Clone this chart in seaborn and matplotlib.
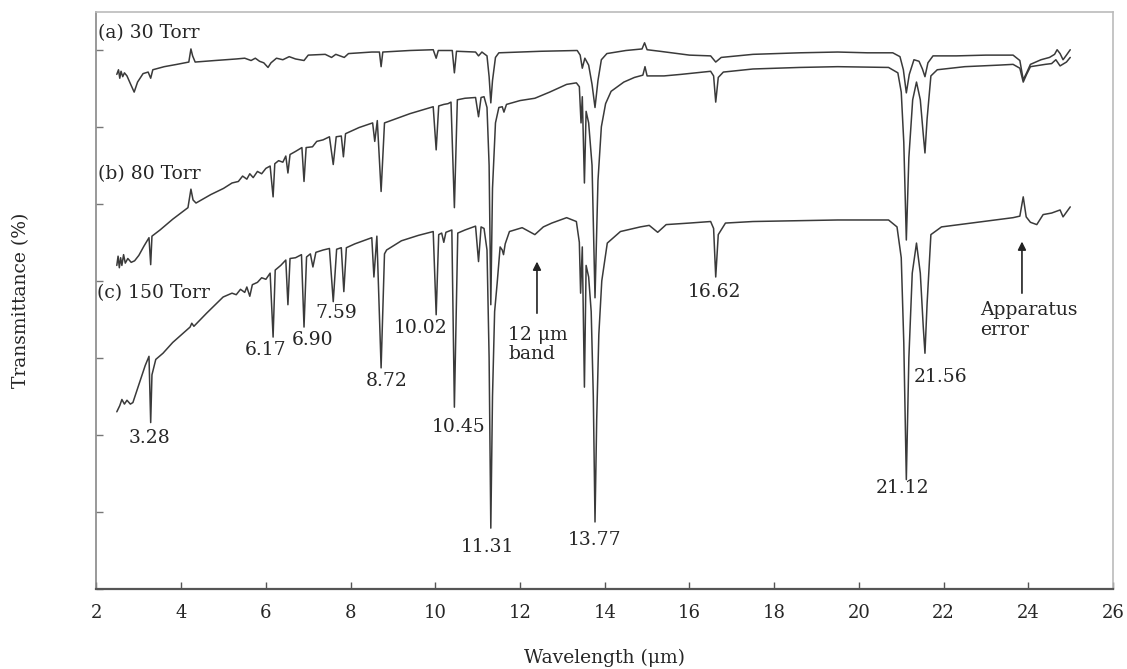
import matplotlib
matplotlib.use("Agg")
import matplotlib.pyplot as plt
import seaborn as sns
import pandas as pd

# ---------------- data ----------------
a_wl = [2.48, 2.52, 2.55, 2.58, 2.62, 2.66, 2.72, 2.80, 2.89, 2.97, 3.10, 3.22, 3.28, 3.33, 3.60, 3.90,
        4.18, 4.23, 4.27, 4.33, 4.80, 5.30, 5.50, 5.65, 5.75, 5.85, 5.95, 6.05, 6.12, 6.25, 6.40, 6.55,
        6.70, 6.90, 7.00, 7.40, 7.55, 7.65, 7.85, 7.95, 8.50, 8.68, 8.72, 8.76, 9.40, 9.95, 10.02, 10.07,
        10.40, 10.45, 10.50, 10.95, 11.02, 11.10, 11.22, 11.27, 11.31, 11.35, 11.42, 11.50, 12.00, 12.50,
        13.35, 13.42, 13.47, 13.53, 13.62, 13.70, 13.77, 13.84, 13.92, 14.05, 14.50, 14.88, 14.94, 15.00,
        15.30, 16.00, 16.50, 16.62, 16.75, 17.50, 18.60, 19.50, 20.20, 20.80, 20.97, 21.05, 21.12, 21.19,
        21.30, 21.42, 21.50, 21.56, 21.63, 21.75, 22.30, 23.00, 23.64, 23.80, 23.88, 23.96, 24.05, 24.30,
        24.50, 24.62, 24.68, 24.75, 24.82, 24.90, 24.99]
a_tr = [66.8, 67.4, 66.3, 67.2, 66.5, 67.0, 66.6, 65.6, 64.5, 65.8, 66.9, 67.1, 66.3, 67.4, 67.8, 68.1,
        68.4, 70.1, 69.2, 68.4, 68.6, 68.8, 68.9, 68.6, 68.9, 68.5, 68.3, 67.7, 68.3, 68.9, 68.7, 69.1,
        68.8, 68.6, 69.3, 69.4, 69.0, 69.4, 69.0, 69.5, 69.7, 69.7, 67.8, 69.7, 69.9, 70.0, 68.9, 69.9,
        69.9, 67.0, 69.8, 69.7, 69.2, 69.7, 69.2, 66.5, 63.1, 66.0, 69.0, 69.6, 69.7, 69.8,
        69.9, 69.3, 67.6, 68.9, 68.0, 65.5, 62.5, 66.0, 68.7, 69.5, 69.9, 70.1, 70.9, 70.0,
        69.8, 69.3, 69.2, 68.4, 69.0, 69.4, 69.6, 69.7, 69.6, 69.6, 69.1, 67.4, 64.4, 66.8,
        68.7, 68.5, 67.5, 66.5, 68.3, 69.2, 69.2, 69.3, 69.3, 68.6, 66.1, 67.0, 68.1, 68.7,
        69.0, 69.4, 70.0, 69.5, 68.7, 69.3, 70.0]

b_wl = [2.48, 2.51, 2.54, 2.57, 2.60, 2.64, 2.68, 2.74, 2.82, 2.90, 3.00, 3.12, 3.24, 3.28, 3.31, 3.50,
        3.80, 4.16, 4.23, 4.28, 4.35, 4.70, 5.00, 5.20, 5.35, 5.45, 5.55, 5.62, 5.70, 5.80, 5.90, 6.00,
        6.10, 6.17, 6.21, 6.30, 6.40, 6.47, 6.52, 6.57, 6.70, 6.85, 6.90, 6.95, 7.10, 7.20, 7.35, 7.50,
        7.59, 7.66, 7.78, 7.83, 7.88, 8.20, 8.52, 8.57, 8.63, 8.72, 8.80, 8.90, 9.40, 9.95, 10.02, 10.08,
        10.20, 10.30, 10.37, 10.45, 10.52, 10.70, 10.95, 11.02, 11.08, 11.15, 11.22, 11.27, 11.31, 11.35,
        11.42, 11.50, 11.58, 11.62, 11.68, 12.00, 12.35, 12.70, 13.10, 13.33, 13.40, 13.44, 13.47, 13.52,
        13.56, 13.62, 13.70, 13.77, 13.84, 13.92, 14.02, 14.15, 14.45, 14.70, 14.90, 14.95, 15.00, 15.40,
        15.80, 16.50, 16.57, 16.62, 16.68, 16.80, 17.50, 18.60, 19.50, 20.70, 20.92, 21.00, 21.06, 21.12,
        21.18, 21.27, 21.36, 21.45, 21.52, 21.56, 21.61, 21.70, 21.85, 22.50, 23.30, 23.64, 23.80, 23.88,
        23.96, 24.05, 24.40, 24.55, 24.65, 24.75, 24.90, 24.99]
b_tr = [42.0, 43.2, 41.7, 43.0, 42.0, 43.4, 42.3, 42.9, 42.4, 42.6, 43.3, 44.5, 45.6, 42.1, 45.8, 46.6,
        48.0, 49.5, 51.9, 50.5, 50.1, 51.2, 52.0, 52.7, 52.9, 53.6, 53.2, 53.9, 53.4, 54.2, 53.9, 54.6,
        54.9, 50.9, 55.2, 55.6, 55.4, 56.2, 54.0, 56.4, 56.8, 57.3, 52.9, 57.3, 57.4, 58.1, 58.3, 58.7,
        55.1, 58.7, 58.8, 56.1, 59.1, 59.9, 60.5, 58.1, 60.8, 51.6, 60.5, 60.7, 61.7, 62.6, 57.0, 62.7,
        62.9, 63.0, 63.2, 49.5, 63.5, 63.7, 63.8, 61.3, 63.8, 63.9, 62.5, 55.0, 36.9, 52.0,
        60.5, 62.5, 62.6, 61.9, 62.9, 63.4, 63.7, 64.5, 65.5, 65.7, 65.2, 60.5, 63.9, 52.7,
        62.0, 60.5, 55.0, 37.8, 53.0, 60.0, 63.0, 64.6, 65.8, 66.4, 66.7, 67.8, 66.6, 66.6,
        66.8, 67.2, 66.6, 63.2, 66.4, 67.1, 67.5, 67.7, 67.8, 67.7, 67.0, 64.5, 58.0, 45.3,
        56.0, 63.5, 65.8, 63.5, 59.0, 56.6, 61.0, 66.6, 67.4, 67.8, 68.0, 68.1, 67.6, 65.8,
        66.8, 67.8, 68.1, 68.2, 68.7, 67.9, 68.4, 69.0]

c_wl = [2.48, 2.55, 2.60, 2.66, 2.72, 2.80, 2.86, 3.00, 3.15, 3.24, 3.28, 3.31, 3.40, 3.57, 3.80, 4.21,
        4.25, 4.30, 4.60, 4.99, 5.20, 5.30, 5.40, 5.50, 5.55, 5.62, 5.68, 5.80, 5.90, 6.00, 6.10, 6.17,
        6.22, 6.35, 6.47, 6.52, 6.57, 6.70, 6.84, 6.90, 6.96, 7.05, 7.11, 7.18, 7.35, 7.50, 7.59, 7.67,
        7.78, 7.84, 7.90, 8.10, 8.50, 8.55, 8.62, 8.72, 8.80, 8.85, 9.20, 9.60, 9.95, 10.02, 10.08, 10.15,
        10.20, 10.25, 10.39, 10.45, 10.53, 10.70, 10.95, 11.02, 11.08, 11.15, 11.22, 11.27, 11.31, 11.35,
        11.40, 11.46, 11.53, 11.58, 11.61, 11.65, 11.75, 12.05, 12.35, 12.55, 12.75, 13.10, 13.33, 13.40,
        13.43, 13.47, 13.52, 13.56, 13.62, 13.68, 13.73, 13.77, 13.81, 13.86, 13.93, 14.06, 14.37, 14.84,
        15.05, 15.25, 15.45, 16.00, 16.50, 16.57, 16.62, 16.68, 16.85, 17.50, 18.50, 19.50, 20.70, 20.90,
        21.00, 21.06, 21.12, 21.18, 21.26, 21.36, 21.45, 21.52, 21.56, 21.61, 21.70, 21.95, 22.80, 23.64,
        23.80, 23.88, 23.95, 24.05, 24.20, 24.35, 24.55, 24.75, 24.82, 24.99]
c_tr = [23.0, 23.8, 24.6, 24.0, 24.5, 24.0, 24.2, 26.5, 29.0, 30.2, 21.6, 27.8, 29.8, 30.6, 32.0, 34.0,
        34.5, 34.1, 35.8, 37.9, 38.4, 38.2, 38.9, 38.5, 39.2, 38.0, 39.5, 39.8, 40.4, 40.2, 41.0, 32.7,
        41.4, 42.0, 42.7, 36.9, 42.9, 43.0, 43.4, 34.0, 43.1, 43.5, 41.8, 43.7, 44.0, 44.2, 37.3, 44.1,
        44.3, 38.6, 44.3, 44.8, 45.6, 40.5, 45.8, 28.7, 43.5, 44.0, 45.2, 45.9, 46.4, 35.6, 46.0, 46.2,
        45.0, 46.3, 46.6, 23.6, 46.2, 46.6, 47.1, 42.5, 47.0, 46.8, 44.0, 30.0, 7.9, 25.0,
        36.0, 39.7, 44.4, 44.0, 43.4, 44.8, 46.4, 46.9, 46.0, 47.0, 47.5, 48.2, 47.7, 45.0,
        38.4, 44.4, 26.2, 42.0, 40.5, 36.0, 25.0, 8.7, 22.0, 33.0, 40.0, 44.9, 46.4, 47.0,
        47.2, 46.3, 47.3, 47.5, 47.7, 46.8, 40.5, 46.0, 47.5, 47.7, 47.8, 47.9, 47.9, 47.0,
        43.0, 32.0, 14.2, 30.0, 41.0, 44.9, 41.0, 34.0, 30.6, 37.0, 46.0, 47.0, 47.6, 48.2,
        48.4, 50.9, 48.3, 47.6, 47.3, 48.6, 48.8, 49.2, 48.3, 49.6]

trace_labels = ["(a) 30 Torr", "(b) 80 Torr", "(c) 150 Torr"]
peak_labels = ["3.28", "6.17", "6.90", "7.59", "8.72", "10.02", "10.45", "11.31",
               "13.77", "16.62", "21.12", "21.56"]
x_ticks = [2, 4, 6, 8, 10, 12, 14, 16, 18, 20, 22, 24, 26]

# ---------------- styling ----------------
sns.set_theme(style="white")
plt.rcParams['font.family'] = ['DejaVu Serif']
plt.rcParams['mathtext.fontset'] = 'dejavuserif'

fig = plt.figure(figsize=(11.27, 6.69), dpi=100)
ax = fig.add_axes([0.0856, 0.1196, 0.9020, 0.8625])

df = pd.concat([
    pd.DataFrame({"wl": a_wl, "tr": a_tr, "trace": trace_labels[0]}),
    pd.DataFrame({"wl": b_wl, "tr": b_tr, "trace": trace_labels[1]}),
    pd.DataFrame({"wl": c_wl, "tr": c_tr, "trace": trace_labels[2]}),
])
line_col = "#3a3a3a"
sns.lineplot(data=df, x="wl", y="tr", units="trace", estimator=None, sort=False,
             color=line_col, lw=1.1, ax=ax, legend=False)

ax.set_xlim(2, 26)
ax.set_ylim(0, 74.9)
ax.set_xticks(x_ticks)
ax.set_xticklabels([str(t) for t in x_ticks], fontsize=13)
ax.set_yticks(range(0, 71, 10))
ax.set_yticklabels([])
ax.tick_params(axis="x", direction="in", length=5, width=1, color="#555555", pad=11, bottom=True)
ax.tick_params(axis="y", direction="in", length=5, width=1, color="#777777", left=True)

for side in ["top", "right"]:
    ax.spines[side].set_color("#bbbbbb")
    ax.spines[side].set_linewidth(1.2)
ax.spines["left"].set_color("#888888")
ax.spines["left"].set_linewidth(1.2)
ax.spines["bottom"].set_color("#555555")
ax.spines["bottom"].set_linewidth(1.6)

ax.set_xlabel("Wavelength (μm)", fontsize=13.5, labelpad=19)
ax.set_ylabel("Transmittance (%)", fontsize=13.5, labelpad=44)

fs = 13.5
# trace labels
ax.text(2.04, 72.2, trace_labels[0], fontsize=fs, ha="left", va="center")
ax.text(2.04, 53.8, trace_labels[1], fontsize=fs, ha="left", va="center")
ax.text(2.02, 38.4, trace_labels[2], fontsize=fs, ha="left", va="center")

# peak labels (position per label)
peak_pos = [(3.26, 19.6), (6.00, 31.0), (7.11, 32.3), (7.65, 35.8), (8.84, 27.0), (9.66, 33.9),
            (10.56, 21.0), (11.24, 5.5), (13.75, 6.4), (16.60, 38.6), (21.04, 13.1), (21.92, 27.5)]
for lab, (px, py) in zip(peak_labels, peak_pos):
    ax.text(px, py, lab, fontsize=fs, ha="center", va="center")

ax.text(11.72, 31.7, "12 μm\nband", fontsize=fs, ha="left", va="center", linespacing=1.1)
ax.text(22.86, 34.9, "Apparatus\nerror", fontsize=fs, ha="left", va="center", linespacing=1.1)

arrow_kw = dict(arrowstyle="-|>", color="#222222", lw=1.2, mutation_scale=12, shrinkA=0, shrinkB=0)
ax.annotate("", xy=(12.40, 42.5), xytext=(12.40, 35.8), arrowprops=arrow_kw)
ax.annotate("", xy=(23.85, 45.1), xytext=(23.85, 38.4), arrowprops=arrow_kw)

fig.savefig("out.png", dpi=100, facecolor="white")
